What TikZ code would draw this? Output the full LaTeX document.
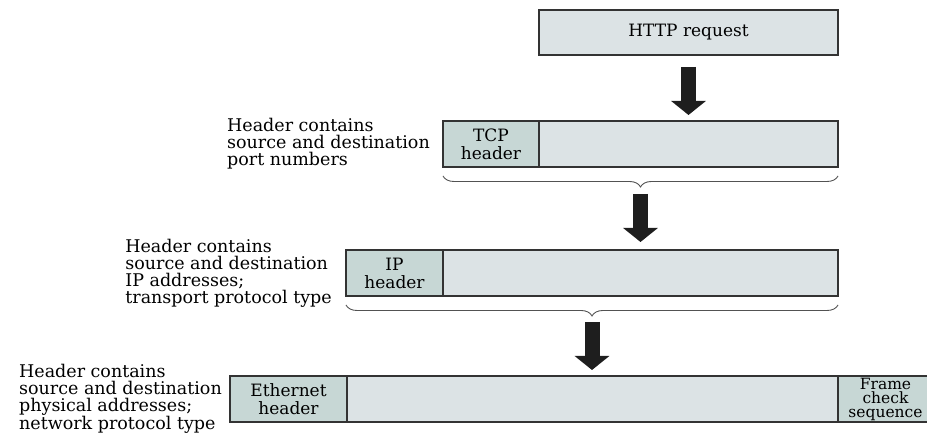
\documentclass[tikz,border=0pt]{standalone}
\usepackage{fontspec}
\setmainfont{DejaVu Serif}
\usetikzlibrary{positioning, arrows.meta, decorations.pathreplacing}
\definecolor{edge}{HTML}{333333}
\definecolor{paybg}{HTML}{DCE3E5}
\definecolor{hdrbg}{HTML}{C7D7D5}
\definecolor{ink}{HTML}{1E1E1E}
\tikzset{
  cell/.style={draw=edge, line width=1.1pt, inner sep=0pt, outer sep=0pt,
               minimum height=46pt, align=center, font=\fontsize{17}{18}\selectfont},
  pay/.style={cell, fill=paybg},
  hdr/.style={cell, fill=hdrbg},
  note/.style={align=left, inner sep=0pt, font=\fontsize{17.5}{17}\selectfont},
  fat/.style={ink, line width=15pt, -{Triangle[width=34pt, length=14pt]}},
  brc/.style={draw=edge!85, line width=0.9pt, decorate,
              decoration={brace, mirror, amplitude=11pt}},
}

\begin{document}
\begin{tikzpicture}[x=1pt, y=1pt]
  \useasboundingbox (0,0) rectangle (927,435);
  \clip (0,0) rectangle (927,435);

  % segment (TCP)
  \node[hdr, minimum width=96pt, anchor=west] (tcphdr) at (443,291) {TCP\\header};
  \node[pay, minimum width=299pt, right=0pt of tcphdr] (tcp) {};
  \node[pay, minimum width=299pt, minimum height=45pt, above=66pt of tcp] (http) {HTTP request};
  \node[note, left=13pt of tcphdr] (tcpnote) {Header contains\\source and destination\\port numbers};

  % packet (IP)
  \node[hdr, minimum width=97pt, anchor=west] (iphdr) at (346,162) {IP\\header};
  \node[pay, minimum width=395pt, right=0pt of iphdr] (ip) {};
  \node[note, left=14pt of iphdr] (ipnote) {Header contains\\source and destination\\IP addresses;\\transport protocol type};

  % frame (Ethernet)
  \node[hdr, minimum width=117pt, anchor=west] (ethhdr) at (230,36) {Ethernet\\header};
  \node[pay, minimum width=491pt, right=0pt of ethhdr] (eth) {};
  \node[hdr, minimum width=95pt, right=0pt of eth, font=\fontsize{15.5}{14}\selectfont] (fcs) {Frame\\check\\sequence};
  \node[note, left=8pt of ethhdr] (ethnote) {Header contains\\source and destination\\physical addresses;\\network protocol type};

  % braces
  \draw[brc] ([yshift=-9pt]tcphdr.south west) -- node[coordinate, pos=0.5, yshift=-11pt] (tcptip) {} ([yshift=-9pt]tcp.south east);
  \draw[brc] ([yshift=-9pt]iphdr.south west) -- node[coordinate, pos=0.5, yshift=-11pt] (iptip) {} ([yshift=-9pt]ip.south east);

  % encapsulation arrows
  \draw[fat, shorten <=12pt, shorten >=6pt] (http.south) -- (tcp.north);
  \draw[fat, shorten <=7pt, shorten >=8pt] (tcptip) -- (tcptip |- ip.north);
  \draw[fat, shorten <=6pt, shorten >=6pt] (iptip) -- (iptip |- eth.north);
\end{tikzpicture}
\end{document}
